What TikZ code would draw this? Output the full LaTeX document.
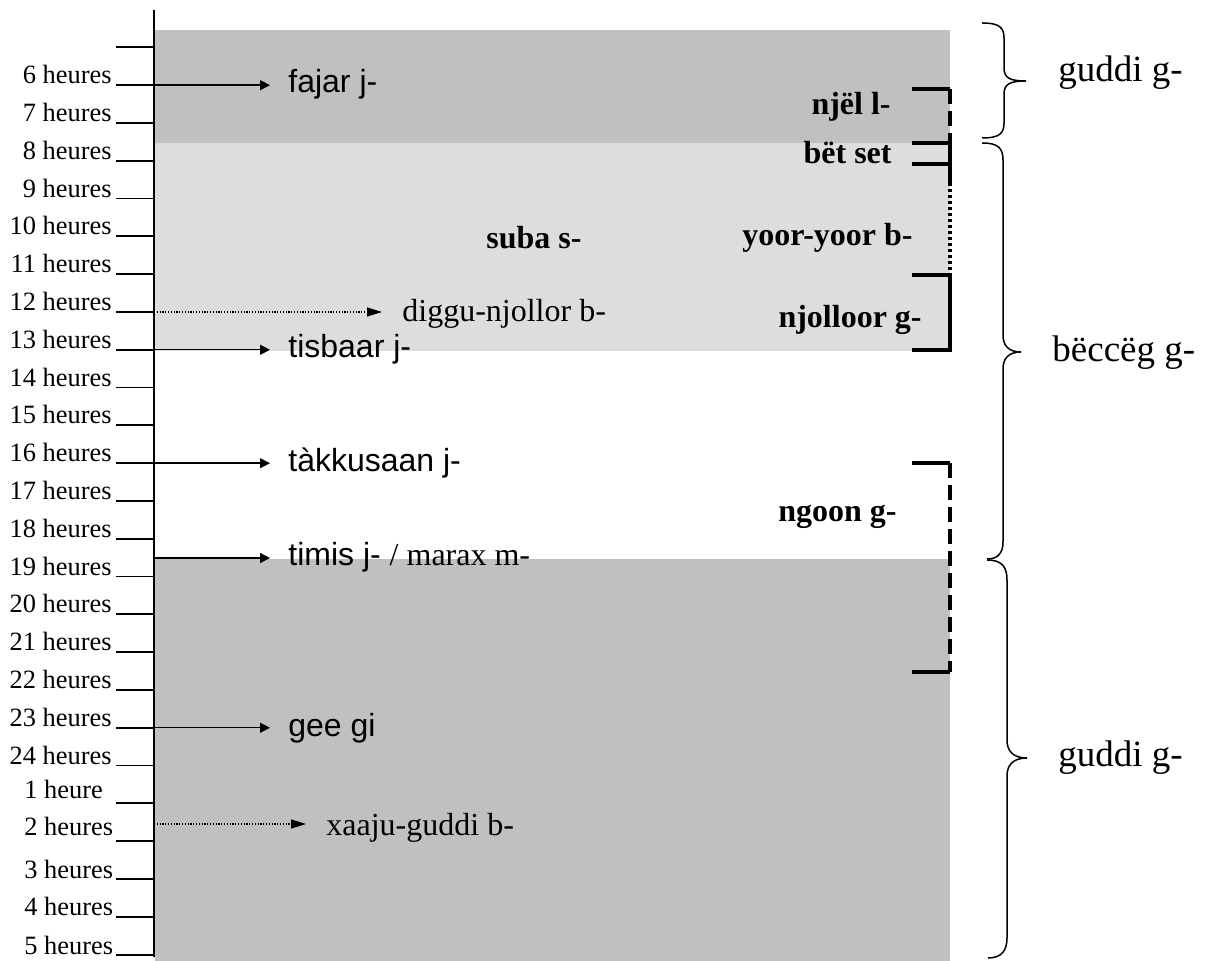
\documentclass[tikz,border=0pt]{standalone}
\usepackage{fontspec}
\setmainfont{Liberation Serif}
\newfontfamily\arialfont{Liberation Sans}
\usetikzlibrary{arrows.meta}
\definecolor{nightgrey}{RGB}{192,192,192}
\definecolor{daygrey}{RGB}{221,221,221}

\begin{document}
\begin{tikzpicture}[x=0.5pt, y=-0.5pt, >={Triangle[length=5pt, width=5pt]},
  hour/.style={inner sep=0pt, font=\fontsize{13.2}{15}\selectfont},
  moment/.style={inner sep=0pt, font=\arialfont\fontsize{16}{19}\selectfont},
  midnote/.style={inner sep=0pt, font=\fontsize{16}{19}\selectfont},
  period/.style={inner sep=0pt, font=\bfseries\fontsize{16}{19}\selectfont},
  part/.style={inner sep=0pt, font=\fontsize{18.5}{22}\selectfont},
  axisline/.style={line width=0.9pt},
  arr/.style={->, line width=0.7pt, shorten >=9pt},
  dotarr/.style={-{Triangle[length=7.5pt, width=4.5pt]}, line width=0.6pt,
    dash pattern=on 0.6pt off 0.8pt, shorten >=10pt},
  brk/.style={line width=1.8pt},
  brc/.style={line width=0.75pt}]

  \useasboundingbox (0,0) rectangle (1205,961);

  % --- 1. 背景の帯（夜・昼） ---
  \fill[nightgrey] (155,30) rectangle (950,143);
  \fill[daygrey] (155,143) rectangle (950,351);
  \fill[nightgrey] (155,559) rectangle (950,961);

  % --- 2. 時刻の軸と目盛り ---
  \draw[axisline] (154,10) -- (154,957);
  \coordinate (h0) at (154,47.4);
  \draw[axisline] (h0) -- ++(-38,0);

  % 6 heures ... 24 heures
  \foreach \n [count=\i] in {6,...,24} {
    \coordinate (h\n) at (154,{47.4+\i*37.8});
    \draw[axisline] (h\n) -- ++(-38,0);
    \node[hour, anchor=base east] (l\n) at (112,{45.9+\i*37.8}) {\n\ heures};
  }

  % 1 heure ... 5 heures
  \foreach \n/\lab/\dy in {1/heure/-5, 2/heures/-6, 3/heures/-1, 4/heures/-1, 5/heures/0} {
    \coordinate (h\n) at (154,{47.4+(19+\n)*37.8});
    \draw[axisline] (h\n) -- ++(-38,0);
    \node[hour, anchor=base west] (l\n) at (24,{47.4+(19+\n)*37.8+\dy}) {\n\ \lab};
  }

  % --- 3. 礼拝の時刻（実線の矢印） ---
  \node[moment, anchor=base west] (fajar) at (288,93) {fajar j-};
  \draw[arr] (h6) -- (h6 -| fajar.west);

  \node[moment, anchor=base west] (tisbaar) at (288,358) {tisbaar j-};
  \draw[arr] (h13) -- (h13 -| tisbaar.west);

  \node[moment, anchor=base west] (takkusaan) at (288,472) {tàkkusaan j-};
  \draw[arr] (h16) -- (h16 -| takkusaan.west);

  \coordinate (timisstart) at (154,558);
  \node[moment, anchor=base west] (timis) at (288,566) {timis j- {\rmfamily / marax m-}};
  \draw[arr] (timisstart) -- (timisstart -| timis.west);

  \node[moment, anchor=base west] (geegi) at (288,737) {gee gi};
  \draw[arr] (h23) -- (h23 -| geegi.west);

  % --- 4. 真昼・真夜中（点線の矢印） ---
  \node[midnote, anchor=base west] (diggu) at (402,322) {diggu-njollor b-};
  \draw[dotarr] (h12) -- (h12 -| diggu.west);

  \coordinate (xaajustart) at (154,824);
  \node[midnote, anchor=base west] (xaaju) at (326,835) {xaaju-guddi b-};
  \draw[dotarr] (xaajustart) -- (xaajustart -| xaaju.west);

  % --- 5. 時間帯の名前と括弧 ---
  \node[period, anchor=base] (suba) at (534,249) {suba s-};
  \node[period, anchor=base east] (njel) at (891,115) {njël l-};
  \node[period, anchor=base east] (betset) at (892,164) {bët set};
  \node[period, anchor=base east] (yoor) at (913,246) {yoor-yoor b-};
  \node[period, anchor=base east] (njolloor) at (922,328) {njolloor g-};
  \node[period, anchor=base east] (ngoon) at (897,522) {ngoon g-};

  % njël l- (破線)
  \draw[brk] (912,89) -- (950,89);
  \draw[brk, dash pattern=on 7.5pt off 3.5pt] (950,89) -- (950,143);
  % bët set / yoor-yoor b-
  \draw[brk] (912,143) -- (950,143);
  \draw[brk] (912,164) -- (950,164);
  \draw[brk] (950,143) -- (950,183);
  \draw[brk, dash pattern=on 1.5pt off 1.5pt] (950,183) -- (950,275);
  % njolloor g-
  \draw[brk] (912,275) -- (950,275) -- (950,350) -- (912,350);
  % ngoon g- (破線)
  \draw[brk] (912,463) -- (950,463);
  \draw[brk, dash pattern=on 7.5pt off 3.5pt] (950,463) -- (950,672);
  \draw[brk] (912,672) -- (950,672);

  % --- 6. 右側の波括弧（guddi / bëccëg） ---
  \draw[brc] (982,23) .. controls (1000,23) and (1004,28) .. (1004,38) -- (1004,68)
    .. controls (1004,78) and (1010,81) .. (1026,81)
    .. controls (1010,81) and (1004,84) .. (1004,94) -- (1004,123)
    .. controls (1004,133) and (1000,138) .. (982,138);
  \node[part, anchor=base west] (guddi1) at (1058,82) {guddi g-};

  \draw[brc] (982,143) .. controls (998,143) and (1003,148) .. (1003,160) -- (1003,335)
    .. controls (1003,345) and (1008,352) .. (1021,352)
    .. controls (1008,352) and (1003,359) .. (1003,369) -- (1003,542)
    .. controls (1003,553) and (998,559) .. (987,559);
  \node[part, anchor=base west] (beccog) at (1052,362) {bëccëg g-};

  \draw[brc] (987,560) .. controls (1002,560) and (1007,567) .. (1007,580) -- (1007,740)
    .. controls (1007,750) and (1012,758) .. (1027,758)
    .. controls (1012,758) and (1007,766) .. (1007,776) -- (1007,938)
    .. controls (1007,950) and (1002,958) .. (988,958);
  \node[part, anchor=base west] (guddi2) at (1058,767) {guddi g-};

\end{tikzpicture}
\end{document}
